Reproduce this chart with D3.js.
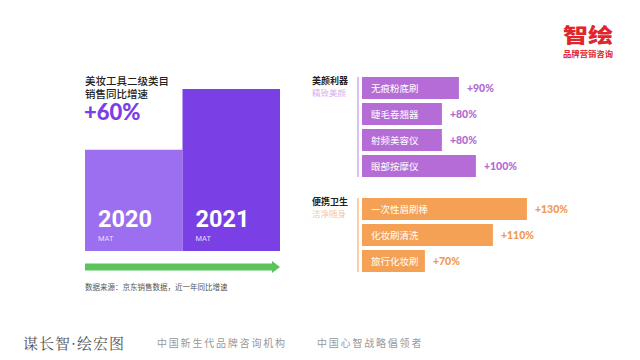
<!DOCTYPE html>
<html lang="zh-CN"><head><meta charset="utf-8">
<script src="https://cdn.jsdelivr.net/npm/d3@7"></script>
<style>
html,body{margin:0;padding:0;background:#fff;}
svg{display:block;}
</style>
</head><body>
<svg id="c" width="640" height="360"></svg>
<script>
// ---- data ----
const years = ["2020", "2021"];
const yearSales = [100, 160];          // relative sales index (2021 = +60%)
const growthLabel = "+60%";
const beautyItems = ["无痕粉底刷", "睫毛卷翘器", "射频美容仪", "眼部按摩仪"];
const beautyGrowth = [90, 80, 80, 100];
const hygieneItems = ["一次性眉刷棒", "化妆刷清洗", "旅行化妆刷"];
const hygieneGrowth = [130, 110, 70];

const F = "'Noto Sans CJK SC','Noto Sans',sans-serif";
const FT = "'Liberation Sans','Noto Sans CJK SC',sans-serif"; // compact line metrics for stacked lines
const svg = d3.select("#c");

// ---- left: year bars ----
const xYear = d3.scaleBand().domain(years).range([85, 280]).padding(0);
const yYear = d3.scaleLinear().domain([0, 160]).range([251, 89]);
const yearColors = ["#9b6ff0", "#7a40e6"];
svg.selectAll("rect.year").data(years).join("rect")
  .attr("x", d => xYear(d)).attr("width", xYear.bandwidth())
  .attr("y", (d, i) => yYear(yearSales[i]))
  .attr("height", (d, i) => yYear(0) - yYear(yearSales[i]))
  .attr("fill", (d, i) => yearColors[i]);
svg.selectAll("text.yr").data(years).join("text")
  .attr("x", d => xYear(d) + 13).attr("y", 227)
  .attr("font-family", "Roboto,'Noto Sans',sans-serif").attr("font-weight", 700)
  .attr("font-size", 23.5).attr("fill", "#fff").text(d => d);
svg.selectAll("text.mat").data(years).join("text")
  .attr("x", d => xYear(d) + 13).attr("y", 241)
  .attr("font-family", "Roboto,sans-serif").attr("font-size", 7.5)
  .attr("fill", "#e8dcff").text("MAT");

// titles
svg.append("text").attr("x", 85).attr("y", 84.5).attr("font-family", FT)
  .attr("font-size", 10.5).attr("font-weight", 500).attr("fill", "#222").text("美妆工具二级类目");
svg.append("text").attr("x", 85).attr("y", 97.5).attr("font-family", FT)
  .attr("font-size", 10.5).attr("font-weight", 500).attr("fill", "#222").text("销售同比增速");
svg.append("text").attr("x", 84).attr("y", 120).attr("font-family", "Lato,Inter,sans-serif")
  .attr("font-size", 22).attr("font-weight", 900).attr("fill", "#7a40e6").text(growthLabel);

// arrow
const ax = d3.scaleLinear().domain([0, 1]).range([85, 280]);
svg.append("path")
  .attr("d", `M${ax(0)},263.5 L${ax(1) - 8},263.5 L${ax(1) - 8},261 L${ax(1)},267 L${ax(1) - 8},273 L${ax(1) - 8},270.5 L${ax(0)},270.5 Z`)
  .attr("fill", "#5cc45c");
svg.append("text").attr("x", 85).attr("y", 290).attr("font-family", F)
  .attr("font-size", 7.5).attr("fill", "#555").text("数据来源：京东销售数据，近一年同比增速");

// ---- right: growth bars ----
const xG = d3.scaleLinear().domain([33, 133]).range([362, 532]);

function group(items, vals, y0, color, lineColor, labColor, title, sub, subColor) {
  const yb = d3.scaleBand().domain(items).range([y0, y0 + items.length * 26 - 4]).paddingInner(4 / 26);
  const g = svg.append("g");
  g.append("line").attr("x1", 358).attr("x2", 358)
    .attr("y1", y0).attr("y2", y0 + items.length * 26 - 4)
    .attr("stroke", lineColor).attr("stroke-width", 2);
  g.selectAll("rect").data(items).join("rect")
    .attr("x", xG(33)).attr("y", d => yb(d))
    .attr("width", (d, i) => xG(vals[i]) - xG(33)).attr("height", yb.bandwidth())
    .attr("fill", color);
  g.selectAll("text.in").data(items).join("text")
    .attr("x", 371).attr("y", d => yb(d) + yb.bandwidth() / 2 + 3.5)
    .attr("font-family", F).attr("font-size", 9.5).attr("fill", "#fff").text(d => d);
  g.selectAll("text.v").data(items).join("text")
    .attr("x", (d, i) => xG(vals[i]) + 8).attr("y", d => yb(d) + yb.bandwidth() / 2 + 4)
    .attr("font-family", "Lato,'Noto Sans',sans-serif").attr("font-weight", 900)
    .attr("font-size", 10.5).attr("fill", labColor).text((d, i) => "+" + vals[i] + "%");
  g.append("text").attr("x", 312).attr("y", y0 + 7).attr("font-family", FT)
    .attr("font-size", 9).attr("font-weight", 700).attr("fill", "#222").text(title);
  g.append("text").attr("x", 312).attr("y", y0 + 19).attr("font-family", FT)
    .attr("font-size", 8.5).attr("fill", subColor).text(sub);
}
group(beautyItems, beautyGrowth, 77, "#b56cd6", "#dcc0ee", "#b46ad4", "美颜利器", "精致美颜", "#d8aef0");
group(hygieneItems, hygieneGrowth, 198, "#f4a055", "#f8cfa8", "#f09a4c", "便携卫生", "洁净随身", "#f8c6a0");

// ---- logo ----
svg.append("text").attr("x", 563).attr("y", 43)
  .attr("font-family", FT).attr("font-weight", 900).attr("font-size", 20)
  .attr("textLength", 50).attr("lengthAdjust", "spacingAndGlyphs")
  .attr("fill", "#e0262b").text("智绘");
svg.append("text").attr("x", 563).attr("y", 56.5)
  .attr("font-family", FT).attr("font-weight", 700).attr("font-size", 8)
  .attr("textLength", 50).attr("lengthAdjust", "spacingAndGlyphs")
  .attr("fill", "#e0262b").text("品牌营销咨询");

// ---- footer ----
svg.append("text").attr("x", 23).attr("y", 349).attr("font-family", "'Noto Serif CJK SC','Noto Sans CJK SC',serif")
  .attr("font-size", 15).attr("fill", "#555").attr("letter-spacing", 1).text("谋长智·绘宏图");
svg.append("text").attr("x", 157).attr("y", 347).attr("font-family", F)
  .attr("font-size", 10).attr("fill", "#999").attr("letter-spacing", 1.8).text("中国新生代品牌咨询机构");
svg.append("text").attr("x", 317).attr("y", 347).attr("font-family", F)
  .attr("font-size", 10).attr("fill", "#999").attr("letter-spacing", 1.8).text("中国心智战略倡领者");
</script>
</body></html>
